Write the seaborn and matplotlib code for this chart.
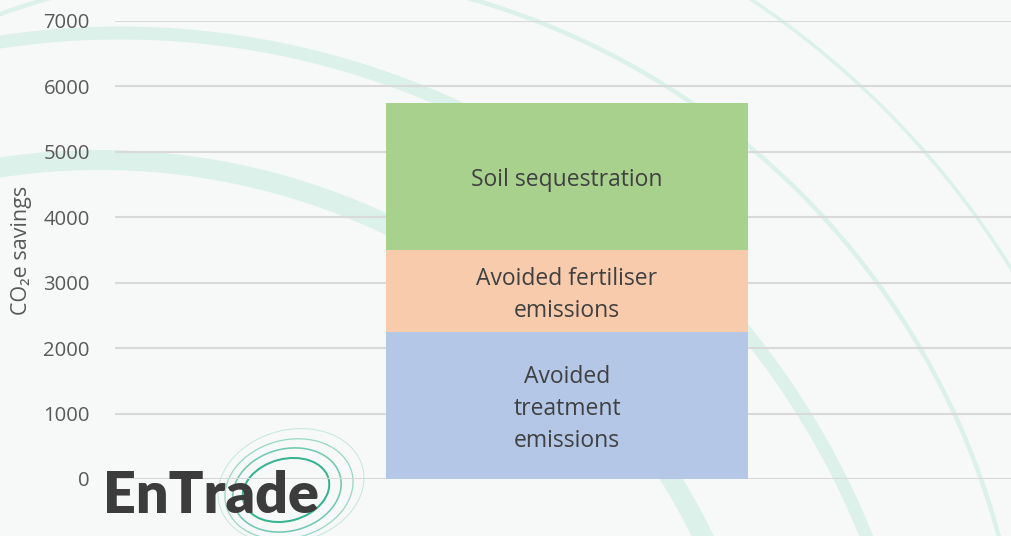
import matplotlib
matplotlib.use("Agg")
import matplotlib.pyplot as plt
from matplotlib.patches import Circle, Ellipse
from matplotlib.transforms import offset_copy
import seaborn as sns
import pandas as pd
import numpy as np

# ---- data ----
segments = ["Avoided\ntreatment\nemissions", "Avoided fertiliser\nemissions", "Soil sequestration"]
values = [2240, 1260, 2250]
colors = ["#B4C7E7", "#F8CBAD", "#A9D18E"]
category = [""]
y_ticks = [0, 1000, 2000, 3000, 4000, 5000, 6000, 7000]
y_label = "CO\u2082e savings"
logo_text = "EnTrade"

sns.set_theme(style="white")
plt.rcParams["font.family"] = ["Open Sans", "Noto Sans", "DejaVu Sans"]

BG = "#F7F9F9"
W, H = 1012, 536
fig = plt.figure(figsize=(W / 100, H / 100), dpi=100, facecolor=BG)

# ---- decorative background (pixel coordinate axes) ----
bg = fig.add_axes([0, 0, 1, 1], zorder=0)
bg.set_xlim(0, W)
bg.set_ylim(H, 0)
bg.axis("off")
arc_col = "#DCF1EA"
px = 0.72  # px -> pt
for (cx, cy, r, lw) in [(120, 838, 805, 13), (100, 831, 671, 20),
                        (259, 735, 766, 4.5), (259, 735, 885, 3.5)]:
    bg.add_patch(Circle((cx, cy), r, fill=False, ec=arc_col, lw=lw * px))
logo_green = "#2BAF89"
for (cx, cy, w, h, ang, lw, a) in [(286, 490, 88, 62, -15, 2.0, 0.95),
                                   (287, 490, 110, 82, -15, 1.6, 0.65),
                                   (289, 489, 130, 98, -15, 1.3, 0.45),
                                   (291, 486, 148, 112, -15, 1.0, 0.25)]:
    bg.add_patch(Ellipse((cx, cy), w, h, angle=ang, fill=False, ec=logo_green,
                         lw=lw * px, alpha=a))

# ---- main chart ----
ax = fig.add_axes([115 / W, 57 / H, 904 / W, 458 / H], zorder=1)
ax.set_facecolor("none")

cum = np.cumsum(values)
df = pd.DataFrame({"cat": category * len(values), "seg": segments, "cum": cum})
# draw cumulative totals from largest to smallest (stacked effect)
for i in range(len(values) - 1, -1, -1):
    sns.barplot(data=df.iloc[[i]], x="cat", y="cum", color=colors[i],
                saturation=1, width=0.4, ax=ax, zorder=3, edgecolor="none")

ax.set_xlim(-0.5, 0.5)
ax.set_ylim(0, 7000)
ax.set_yticks(y_ticks)
ax.set_yticklabels([str(t) for t in y_ticks])
ax.tick_params(axis="y", length=0, pad=18, labelsize=14.6, labelcolor="#595959")
ax.tick_params(axis="x", length=0, labelbottom=False)
ax.set_xlabel("")
ax.grid(axis="y", color="#D9D9D9", lw=1.5, zorder=1)
ax.set_axisbelow(True)
for s in ax.spines.values():
    s.set_visible(False)

ax.set_ylabel(y_label, fontsize=15.5, color="#595959")
ax.yaxis.set_label_coords(-0.1029, 0.5)
ax.yaxis.label.set_verticalalignment("center")

starts = np.concatenate([[0], cum[:-1]])
txt_tr = offset_copy(ax.transData, fig=fig, x=0, y=-3.5, units="dots")
for lab, s0, v in zip(segments, starts, values):
    ax.text(0, s0 + v / 2, lab, ha="center", va="center", fontsize=16.5,
            color="#404040", linespacing=1.45, zorder=5, transform=txt_tr)

fig.text(103 / W, (H - 513) / H, logo_text, ha="left", va="baseline",
         fontsize=41.3, fontweight="heavy", color="#3C3C3C",
         family=["Lato", "DejaVu Sans"], zorder=10)

fig.savefig("out.png", dpi=100, facecolor=BG)
